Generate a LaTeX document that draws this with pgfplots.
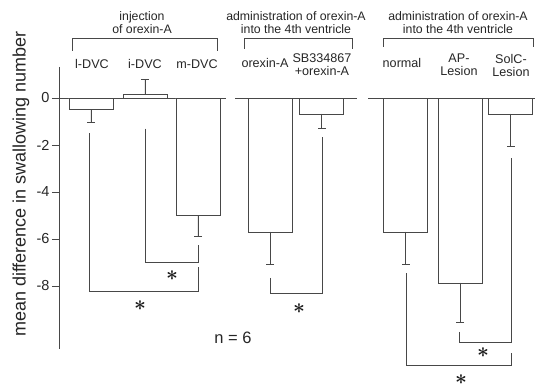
\documentclass[border=0pt]{standalone}
\usepackage{fontspec}
\setmainfont{Liberation Sans}
\usepackage{pgfplots}
\pgfplotsset{compat=1.18}
\definecolor{ln}{HTML}{484848}
\tikzset{
  star/.style={font=\fontsize{22}{22}\selectfont\boldmath, text=black!90, inner sep=0pt},
  grp/.style={font=\fontsize{12.3}{13}\selectfont, align=center, text=black!85},
  lab/.style={font=\fontsize{12.6}{13}\selectfont, align=center, text=black!85},
}
\begin{document}
\begin{tikzpicture}
\begin{axis}[
  scale only axis, width=480pt, height=387pt,
  xmin=59, xmax=539, ymin=-12.298, ymax=4.170,
  clip=false,
  axis line style={draw=none},
  xtick=\empty,
  ytick={-8,-6,-4,-2,0}, yticklabels={-8,-6,-4,-2,0},
  ytick pos=left, tick align=outside, major tick length=7pt,
  tick style={ln, line width=0.8pt},
  yticklabel style={font=\fontsize{14.5}{16}\selectfont, text=black!85, xshift=1pt},
]
% y axis line
\addplot[ln, line width=0.8pt, no marks] coordinates {(59,1.32) (59,-10.68)};
% baselines
\addplot[ln, line width=0.8pt, no marks] coordinates {(59,0) (226,0)};
\addplot[ln, line width=0.8pt, no marks] coordinates {(235,0) (357,0)};
\addplot[ln, line width=0.8pt, no marks] coordinates {(368,0) (535,0)};
% negative bars
\addplot[ybar, bar width=44, bar shift=0, draw=ln, fill=white, line width=0.8pt,
  error bars/.cd, y dir=minus, y explicit,
  error bar style={ln, line width=0.8pt},
  error mark options={rotate=90, mark size=4pt, ln, line width=0.8pt}]
  coordinates {
   (91,-0.47) +- (0,0.55)
   (198,-5.0) +- (0,0.9)
   (270,-5.7) +- (0,1.4)
   (321.5,-0.68) +- (0,0.6)
   (405.5,-5.7) +- (0,1.4)
   (460,-7.87) +- (0,1.7)
   (510.5,-0.68) +- (0,1.4)
  };
% positive bar
\addplot[ybar, bar width=44, bar shift=0, draw=ln, fill=white, line width=0.8pt,
  error bars/.cd, y dir=plus, y explicit,
  error bar style={ln, line width=0.8pt},
  error mark options={rotate=90, mark size=4pt, ln, line width=0.8pt}]
  coordinates {(145,0.15) +- (0,0.65)};
% significance brackets
\addplot[ln, line width=0.8pt, no marks] coordinates {(89,-1.5) (89,-8.25) (198,-8.25) (198,-7.2)};
\addplot[ln, line width=0.8pt, no marks] coordinates {(145,-1.3) (145,-7.0) (198,-7.0) (198,-6.25)};
\addplot[ln, line width=0.8pt, no marks] coordinates {(270,-7.65) (270,-8.3) (322,-8.3) (322,-1.65)};
\addplot[ln, line width=0.8pt, no marks] coordinates {(406,-7.45) (406,-11.4) (511,-11.4) (511,-10.85)};
\addplot[ln, line width=0.6pt, no marks] coordinates {(459,-9.95) (459,-10.4) (511,-10.4) (511,-2.57)};
% group brackets
\addplot[ln, line width=0.8pt, no marks] coordinates {(72,2.0) (72,2.55) (217,2.55) (217,2.0)};
\addplot[ln, line width=0.8pt, no marks] coordinates {(244,2.09) (244,2.55) (352,2.55) (352,2.09)};
\addplot[ln, line width=0.8pt, no marks] coordinates {(383,2.17) (383,2.55) (533,2.55) (533,2.17)};
% stars
\node[star] at (axis cs:140,-8.85) {$\ast$};
\node[star] at (axis cs:172,-7.55) {$\ast$};
\node[star] at (axis cs:299,-8.95) {$\ast$};
\node[star] at (axis cs:461,-12.0) {$\ast$};
\node[star] at (axis cs:483,-10.85) {$\ast$};
% labels
\node[grp] at (axis cs:142,3.22) {injection\\of orexin-A};
\node[grp] at (axis cs:296,3.22) {administration of orexin-A\\into the 4th ventricle};
\node[grp] at (axis cs:458,3.22) {administration of orexin-A\\into the 4th ventricle};
\node[lab] at (axis cs:92,1.45) {l-DVC};
\node[lab] at (axis cs:145,1.45) {i-DVC};
\node[lab] at (axis cs:197,1.45) {m-DVC};
\node[lab] at (axis cs:265,1.5) {orexin-A};
\node[lab] at (axis cs:322,1.4) {SB334867\\+orexin-A};
\node[lab] at (axis cs:402,1.48) {normal};
\node[lab] at (axis cs:459,1.4) {AP-\\Lesion};
\node[lab] at (axis cs:511,1.4) {SolC-\\Lesion};
\node[font=\fontsize{16.5}{17}\selectfont, text=black!85] at (axis cs:233,-10.2) {n = 6};
\node[font=\fontsize{18}{18}\selectfont, rotate=90, text=black!85] at (axis cs:21,-3.66) {mean difference in swallowing number};
% bounding box
\path (axis cs:0,4.17) rectangle (axis cs:539,-12.298);
\end{axis}
\end{tikzpicture}
\end{document}
